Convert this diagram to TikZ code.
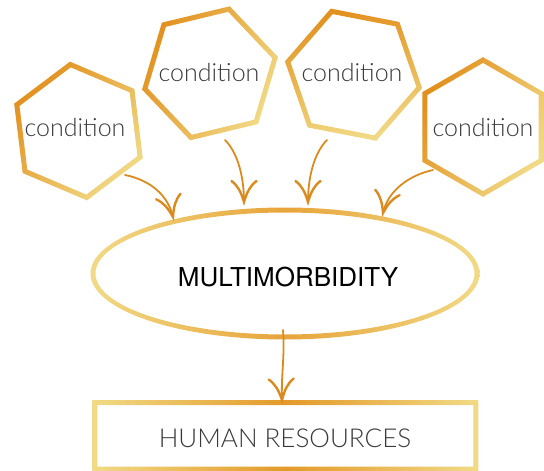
\documentclass[tikz,border=0pt]{standalone}
\usepackage{fontspec}
\usetikzlibrary{decorations.markings}
\IfFontExistsTF{Lato Light}{\newfontfamily\lightfont{Lato Light}}{\newfontfamily\lightfont{TeX Gyre Heros}}
\newfontfamily\regfont{TeX Gyre Heros}
\definecolor{hexdark}{HTML}{E2901E}
\definecolor{hexpale}{HTML}{F1DA86}
\definecolor{ellmid}{HTML}{E7A43A}
\definecolor{rectmid}{HTML}{E39A2A}
\definecolor{arrowc}{HTML}{DB8B1E}
\definecolor{txt}{HTML}{3A3A3A}
\newcommand\hexring[4]{%
\begin{scope}[shift={(#1,#2)}, y=1pt]
\shade[even odd rule, top color=hexdark, bottom color=hexpale, shading angle=#4]
 (#3:69.9) \foreach \k in {1,...,5}{ -- ({#3+60*\k}:69.9)} -- cycle
 (#3:64.1) \foreach \k in {1,...,5}{ -- ({#3+60*\k}:64.1)} -- cycle;
\end{scope}}
\tikzset{
 condtext/.style={font=\lightfont\fontsize{25}{30}\selectfont, text=txt, inner sep=0pt},
 multext/.style={font=\regfont\fontsize{26}{30}\selectfont, text=black, inner sep=0pt},
 hrtext/.style={font=\lightfont\fontsize{26}{30}\selectfont, text=txt, inner sep=0pt},
 conn/.style={draw=arrowc, line width=1.8pt, line cap=round,
   decoration={markings, mark=at position 1 with {\draw[arrowc, line width=2.4pt, line cap=round]
     (-21,12.5) .. controls (-16,6) and (-10,3) .. (0,0) .. controls (-10,-3) and (-16,-6) .. (-21,-12.5);}},
   postaction={decorate}},
}
\begin{document}
\begin{tikzpicture}[x=1pt,y=-1pt]
\useasboundingbox (0,0) rectangle (544,471);
% hexagons
\hexring{78.5}{131}{37}{50}
\hexring{210}{73.3}{13.5}{60}
\hexring{353.5}{74.7}{49}{10}
\hexring{483}{127}{30}{60}
\node[condtext] (c1) at (75,127.5) {condition};
\node[condtext] (c2) at (209,73) {condition};
\node[condtext] (c3) at (352,73) {condition};
\node[condtext] (c4) at (483,127.5) {condition};
% ellipse
\shade[even odd rule, left color=hexpale, right color=hexpale, middle color=ellmid]
  (285,273.5) ellipse [x radius=194.5, y radius=66]
  (285,273.5) ellipse [x radius=189.5, y radius=61];
\node[multext] (mm) at (288,277) {MULTIMORBIDITY};
% rectangle
\shade[even odd rule, left color=hexpale, right color=hexpale, middle color=rectmid]
  (92.3,400) rectangle (478.3,471.5)
  (97.3,405) rectangle (473.3,466.5);
\node[hrtext] (hr) at (285,438) {HUMAN RESOURCES};
% connectors
\coordinate (a1s) at (125,175); \coordinate (a1e) at (173,217);
\coordinate (a2s) at (225,140); \coordinate (a2e) at (244,202);
\coordinate (a3s) at (327,140); \coordinate (a3e) at (308,202);
\coordinate (a4s) at (433,170); \coordinate (a4e) at (383,213);
\coordinate (a5s) at (283,330); \coordinate (a5e) at (282,400);
\draw[conn] (a1s) .. controls (150,180) and (168,195) .. (a1e);
\draw[conn] (a2s) .. controls (237,152) and (244,175) .. (a2e);
\draw[conn] (a3s) .. controls (315,152) and (308,175) .. (a3e);
\draw[conn] (a4s) .. controls (410,175) and (388,190) .. (a4e);
\draw[conn] (a5s) .. controls (285,355) and (281,375) .. (a5e);
\end{tikzpicture}
\end{document}
